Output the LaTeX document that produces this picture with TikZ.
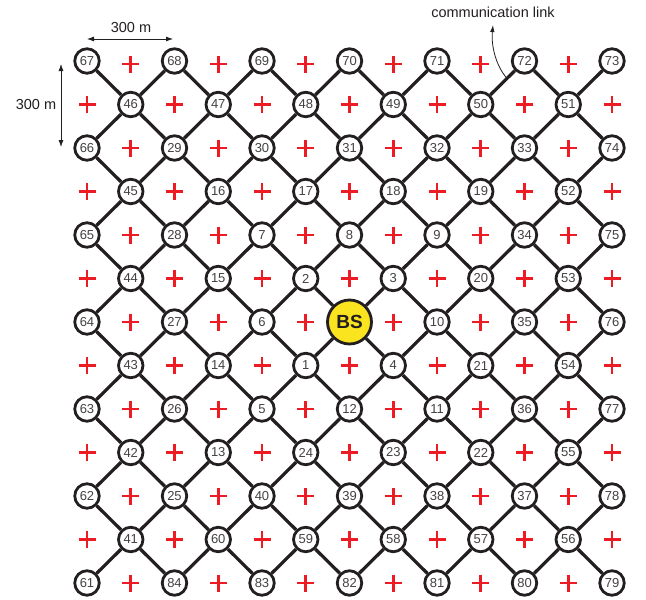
\documentclass[tikz,border=0pt]{standalone}
\usepackage{fontspec}
\setmainfont{Liberation Sans}
\usetikzlibrary{arrows.meta,calc}
\definecolor{ink}{HTML}{231F20}
\definecolor{plusred}{HTML}{ED1C24}
\definecolor{bsyellow}{HTML}{F9E41F}
\tikzset{
  nd/.style={circle,draw=ink,line width=2.8pt,fill=white,minimum size=24.5pt,inner sep=0pt,
    text=ink!85,font=\fontsize{13}{13}\selectfont},
  sty-BS/.style={fill=bsyellow,minimum size=44pt,font=\fontsize{19}{19}\selectfont\bfseries,text=ink},
  link/.style={line width=3.3pt,draw=ink},
  plusmark/.style={line width=2.6pt,draw=plusred},
  dim/.style={line width=0.8pt,draw=ink,{Latex[length=7pt,width=5pt]}-{Latex[length=7pt,width=5pt]}},
  lbl/.style={font=\fontsize{14.5}{14.5}\selectfont,text=ink,inner sep=0pt}
}
\begin{document}
\begin{tikzpicture}[x=1pt,y=-1pt]
\useasboundingbox (0,0) rectangle (646,600);
% nodes
\foreach \r/\labs in {
 0/{67,68,69,70,71,72,73},
 1/{46,47,48,49,50,51},
 2/{66,29,30,31,32,33,74},
 3/{45,16,17,18,19,52},
 4/{65,28,7,8,9,34,75},
 5/{44,15,2,3,20,53},
 6/{64,27,6,BS,10,35,76},
 7/{43,14,1,4,21,54},
 8/{63,26,5,12,11,36,77},
 9/{42,13,24,23,22,55},
 10/{62,25,40,39,38,37,78},
 11/{41,60,59,58,57,56},
 12/{61,84,83,82,81,80,79}} {
  \pgfmathtruncatemacro\off{mod(\r,2)}
  \foreach \lab [count=\k from 0] in \labs {
    \pgfmathtruncatemacro\c{\off+2*\k}
    \node[nd,sty-\lab/.try] (g-\c-\r) at ({87+43.75*\c},{61+43.5*\r}) {\lab};
  }
}
% links
\foreach \r in {0,...,11} {
  \foreach \c in {0,...,12} {
    \pgfmathtruncatemacro\parity{mod(\c+\r,2)}
    \pgfmathtruncatemacro\rn{\r+1}
    \pgfmathtruncatemacro\cr{\c+1}
    \pgfmathtruncatemacro\cl{\c-1}
    \ifnum\parity=0
      \ifnum\c<12 \draw[link] (g-\c-\r) -- (g-\cr-\rn); \fi
      \ifnum\c>0 \draw[link] (g-\c-\r) -- (g-\cl-\rn); \fi
    \fi
  }
}
% plus marks
\foreach \r in {0,...,12} {
  \foreach \c in {0,...,12} {
    \pgfmathtruncatemacro\parity{mod(\c+\r,2)}
    \ifnum\parity=1
      \pgfmathsetmacro\px{87+43.75*\c}
      \pgfmathsetmacro\py{61+43.5*\r+ifthenelse(\r==0,3,0)}
      \draw[plusmark] (\px-8.5,\py) -- (\px+8.5,\py) (\px,\py-8.5) -- (\px,\py+8.5);
    \fi
  }
}
% dimensions
\coordinate (h1) at (87,39);
\coordinate (h2) at (173,39);
\draw[dim] (h1) -- (h2);
\node[lbl] (hl) at (131,28) {300 m};
\coordinate (v1) at (61,64);
\coordinate (v2) at (61,147);
\draw[dim] (v1) -- (v2);
\node[lbl] (vl) at (36,105) {300 m};
% communication link annotation
\node[lbl] (cl) at (493,12) {communication link};
\coordinate (tip) at (493,25);
\coordinate (onlink) at ($(g-9-1)!0.6!(g-10-0)$);
\draw[line width=0.8pt,draw=ink,-{Latex[length=7pt,width=4.5pt]}] (onlink) .. controls (496,66) and (491,46) .. (tip);
\end{tikzpicture}
\end{document}
